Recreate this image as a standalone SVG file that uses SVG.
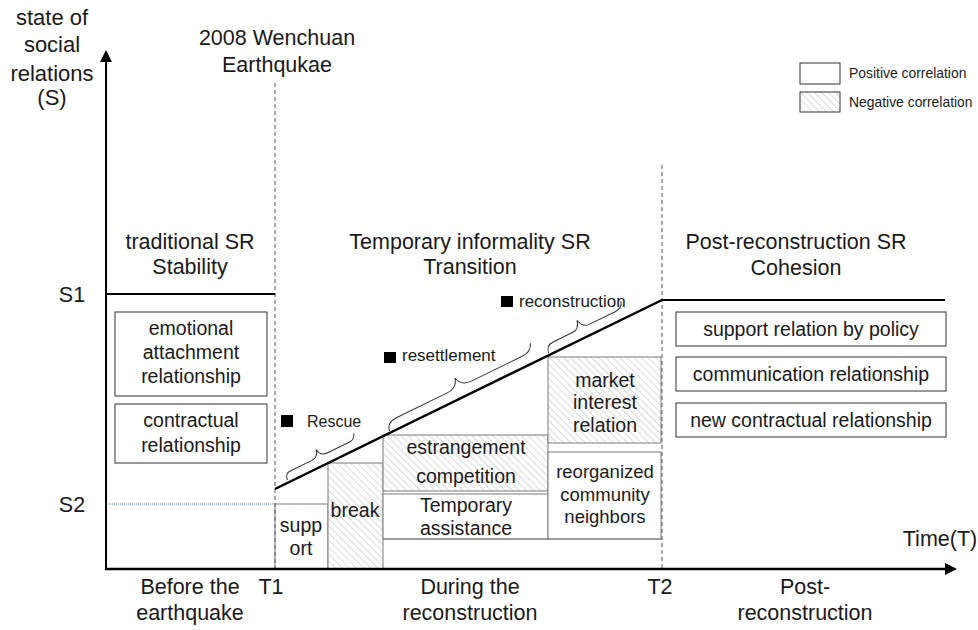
<svg xmlns="http://www.w3.org/2000/svg" width="978" height="630" viewBox="0 0 978 630">
<defs>
  <pattern id="hatch" patternUnits="userSpaceOnUse" width="5" height="5" patternTransform="rotate(-45)">
    <rect width="5" height="5" fill="#ffffff"/>
    <line x1="0" y1="0" x2="0" y2="5" stroke="#c4c4c4" stroke-width="1.2"/>
  </pattern>
  <marker id="arrow" markerUnits="userSpaceOnUse" viewBox="0 0 12 12" refX="2" refY="6" markerWidth="12" markerHeight="12" orient="auto">
    <path d="M0,0 L12,6 L0,12 z" fill="#000"/>
  </marker>
  <style>
    text { font-family: "Liberation Sans", Arial, sans-serif; fill: #1a1a1a; }
    .big { font-size: 21.5px; text-anchor: middle; }
    .bx { font-size: 19.5px; text-anchor: middle; }
    .act { font-size: 17px; }
    .leg { font-size: 13.9px; }
    .pos { fill: #ffffff; stroke: #7a7a7a; stroke-width: 1; }
    .neg { fill: url(#hatch); stroke: #7a7a7a; stroke-width: 1; }
    .side { fill: #ffffff; stroke: #333; stroke-width: 1; }
    .dash { stroke: #555; stroke-width: 1; stroke-dasharray: 4 3; fill: none; }
    .axis { stroke: #000; stroke-width: 2.5; fill: none; }
    .lvl { stroke: #000; stroke-width: 2; fill: none; }
    .brace { stroke: #333; stroke-width: 1; fill: none; }
  </style>
</defs>
<rect width="978" height="630" fill="#ffffff"/>

<!-- labels -->
<g id="y-label">
  <text class="big" x="52" y="25" style="font-size:22px">state of</text>
  <text class="big" x="52" y="52" style="font-size:22px">social</text>
  <text class="big" x="52" y="81" style="font-size:22px">relations</text>
  <text class="big" x="52" y="105" style="font-size:22px">(S)</text>
</g>
<g id="event-label">
  <text class="big" x="277" y="45">2008 Wenchuan</text>
  <text class="big" x="277" y="72">Earthqukae</text>
</g>
<g id="s1"><text class="big" x="72" y="302">S1</text></g>
<g id="s2"><text class="big" x="72" y="512">S2</text></g>
<g id="time-label"><text class="big" x="940" y="546">Time(T)</text></g>
<g id="t1"><text class="big" x="271" y="594">T1</text></g>
<g id="t2"><text class="big" x="660" y="594">T2</text></g>
<g id="period-before">
  <text class="big" x="190" y="594">Before the</text>
  <text class="big" x="190" y="620">earthquake</text>
</g>
<g id="period-during">
  <text class="big" x="470" y="594">During the</text>
  <text class="big" x="470" y="620">reconstruction</text>
</g>
<g id="period-post">
  <text class="big" x="805" y="594">Post-</text>
  <text class="big" x="805" y="620">reconstruction</text>
</g>

<!-- phase headers -->
<g id="hdr-traditional">
  <text class="big" x="190" y="249">traditional SR</text>
  <text class="big" x="190" y="274">Stability</text>
</g>
<g id="hdr-temporary">
  <text class="big" x="470" y="249">Temporary informality SR</text>
  <text class="big" x="470" y="274">Transition</text>
</g>
<g id="hdr-post">
  <text class="big" x="796" y="249">Post-reconstruction SR</text>
  <text class="big" x="796" y="275">Cohesion</text>
</g>

<!-- legend -->
<g id="legend">
  <rect class="side" x="800" y="63" width="40" height="21"/>
  <text class="leg" x="849" y="78">Positive correlation</text>
  <rect class="neg" x="800" y="92" width="40" height="20" style="stroke:#333"/>
  <text class="leg" x="849" y="107">Negative correlation</text>
</g>

<!-- left boxes -->
<g id="emotional">
  <rect class="side" x="115" y="312" width="152" height="84"/>
  <text class="bx" x="191" y="335">emotional</text>
  <text class="bx" x="191" y="359">attachment</text>
  <text class="bx" x="191" y="383">relationship</text>
</g>
<g id="contractual">
  <rect class="side" x="115" y="404" width="152" height="59"/>
  <text class="bx" x="191" y="427">contractual</text>
  <text class="bx" x="191" y="452">relationship</text>
</g>

<!-- right boxes -->
<g id="support-policy">
  <rect class="side" x="676" y="312" width="270" height="34"/>
  <text class="bx" x="811" y="336">support relation by policy</text>
</g>
<g id="communication">
  <rect class="side" x="676" y="357" width="270" height="34"/>
  <text class="bx" x="811" y="381">communication relationship</text>
</g>
<g id="new-contractual">
  <rect class="side" x="676" y="403" width="270" height="34"/>
  <text class="bx" x="811" y="427">new contractual relationship</text>
</g>

<!-- middle boxes -->
<g id="support">
  <rect class="pos" x="275" y="504" width="53" height="65"/>
  <text class="bx" x="301" y="532">supp</text>
  <text class="bx" x="301" y="555">ort</text>
</g>
<g id="break">
  <rect class="neg" x="328" y="463" width="55" height="106"/>
  <text class="bx" x="355" y="517">break</text>
</g>
<g id="estrangement">
  <rect class="neg" x="383" y="435" width="165" height="56"/>
  <text class="bx" x="466" y="454">estrangement</text>
  <text class="bx" x="466" y="483">competition</text>
</g>
<g id="temporary-assistance">
  <rect class="pos" x="383" y="494" width="165" height="45"/>
  <text class="bx" x="466" y="512">Temporary</text>
  <text class="bx" x="466" y="535">assistance</text>
</g>
<g id="market">
  <rect class="neg" x="548" y="357" width="113" height="86"/>
  <text class="bx" x="605" y="387">market</text>
  <text class="bx" x="605" y="409">interest</text>
  <text class="bx" x="605" y="432">relation</text>
</g>
<g id="reorganized">
  <rect class="pos" x="548" y="452" width="113" height="87"/>
  <text class="bx" x="605" y="478" style="font-size:18.5px">reorganized</text>
  <text class="bx" x="605" y="501" style="font-size:18.5px">community</text>
  <text class="bx" x="605" y="523" style="font-size:18.5px">neighbors</text>
</g>
<line x1="383" y1="539" x2="662" y2="539" stroke="#7a7a7a" stroke-width="1"/>

<!-- stage markers -->
<g id="rescue">
  <rect x="281" y="415" width="12" height="12" fill="#000"/>
  <text class="act" x="307" y="427" style="font-size:16px">Rescue</text>
</g>
<g id="resettlement">
  <rect x="384" y="352" width="12" height="11" fill="#000"/>
  <text class="act" x="402" y="361">resettlement</text>
</g>
<g id="reconstruction">
  <rect x="501" y="296" width="12" height="11" fill="#000"/>
  <text class="act" x="519" y="307">reconstruction</text>
</g>

<!-- connectors -->
<g id="connectors">
  <line class="dash" x1="275" y1="83" x2="275" y2="569"/>
  <line class="dash" x1="662" y1="165" x2="662" y2="569"/>
  <line x1="106" y1="504" x2="275" y2="504" stroke="#4a7ebb" stroke-width="1" stroke-dasharray="1 1"/>
  <line class="axis" x1="106" y1="569" x2="106" y2="60" marker-end="url(#arrow)" style="stroke-width:2"/>
  <line class="axis" x1="105" y1="569" x2="947" y2="569" marker-end="url(#arrow)"/>
  <line class="lvl" x1="106" y1="294" x2="275" y2="294"/>
  <line class="lvl" x1="662" y1="300" x2="945" y2="300"/>
  <line class="axis" x1="275" y1="489" x2="662" y2="300"/>
  <!-- braces -->
  <path class="brace" transform="translate(288,481) rotate(-26.03)" d="M0,-1 Q0,-8 7,-8 L30,-8 Q38,-8 39,-16 Q40,-8 48,-8 L72,-8 Q78,-8 80,-14"/>
  <path class="brace" transform="translate(390,432) rotate(-26.03)" d="M0,-1 Q1,-10 12,-10 L68,-10 Q80,-10 82,-20 Q84,-10 96,-10 L152,-10 Q162,-10 165,-18"/>
  <path class="brace" transform="translate(549,354) rotate(-26.03)" d="M0,-1 Q1,-9 9,-9 L31,-9 Q38,-9 40,-18 Q42,-9 49,-9 L78,-9 Q86,-9 88,-16"/>
</g>
</svg>
